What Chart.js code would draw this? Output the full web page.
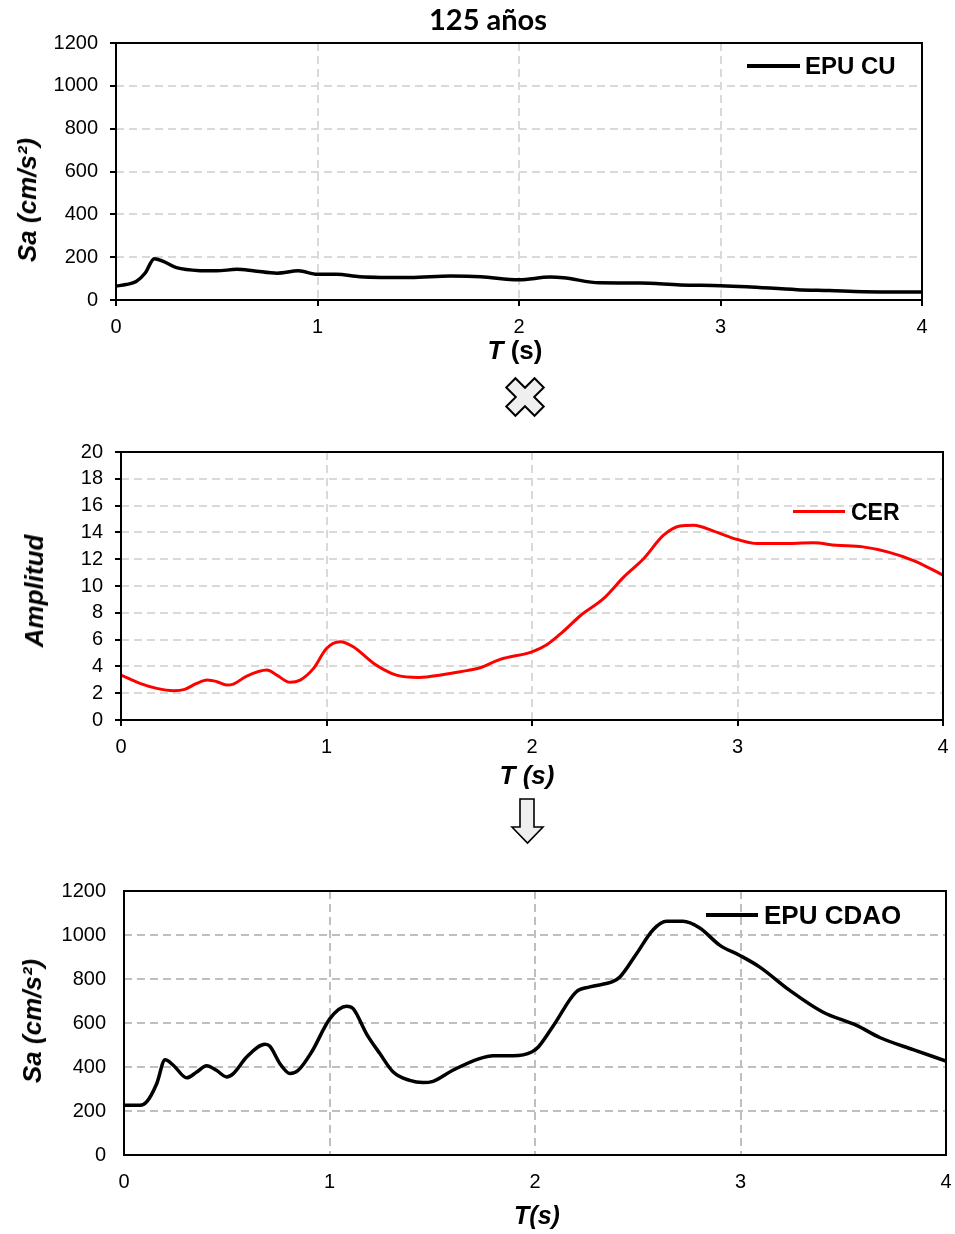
<!DOCTYPE html>
<html><head><meta charset="utf-8">
<script src="https://cdn.jsdelivr.net/npm/chart.js@4.4.0/dist/chart.umd.min.js"></script>
<style>
html,body{margin:0;padding:0;background:#fff;}
body{width:955px;height:1234px;position:relative;overflow:hidden;font-family:"Liberation Sans",Arial,sans-serif;}
canvas{position:absolute;left:0;z-index:1;}
.t{position:absolute;white-space:nowrap;font-weight:bold;color:#000;line-height:1;z-index:2;}
.rot{transform:translate(-50%,-50%) rotate(-90deg);font-style:italic;}
.ctr{transform:translate(-50%,-50%);}
.lt{position:absolute;white-space:nowrap;font-weight:bold;color:#000;line-height:1;transform:translateY(-50%);z-index:2;}
.ll{position:absolute;z-index:2;}
svg{position:absolute;z-index:2;}
</style>
</head><body>

<canvas id="c1" width="985" height="367" style="top:3px"></canvas>
<canvas id="c2" width="985" height="388" style="top:412px"></canvas>
<canvas id="c3" width="985" height="383" style="top:851px"></canvas>

<div class="t ctr" style="left:488px;top:18px;font-family:Lato,'Open Sans',sans-serif;font-size:29px;">125 años</div>

<!-- axis titles -->
<div class="t rot" style="left:27px;top:200px;font-size:26px;">Sa (cm/s²)</div>
<div class="t ctr" style="left:515px;top:350px;font-size:26px;"><i>T</i> (s)</div>

<div class="t rot" style="left:34px;top:591px;font-size:26px;">Amplitud</div>
<div class="t ctr" style="left:527px;top:775px;font-size:26px;font-style:italic;">T (s)</div>

<div class="t rot" style="left:32px;top:1021px;font-size:26px;">Sa (cm/s²)</div>
<div class="t ctr" style="left:537px;top:1215px;font-size:25px;font-style:italic;">T(s)</div>

<!-- legends -->
<div class="ll" style="left:747px;top:64px;width:53px;height:4px;background:#000;"></div>
<div class="lt" style="left:805px;top:66px;font-size:24px;">EPU CU</div>

<div class="ll" style="left:793px;top:510px;width:52px;height:3px;background:#ff0000;"></div>
<div class="lt" style="left:851px;top:512px;font-size:23px;">CER</div>

<div class="ll" style="left:706px;top:913px;width:52px;height:4px;background:#000;"></div>
<div class="lt" style="left:764px;top:915px;font-size:26px;">EPU CDAO</div>

<!-- cross icon -->
<svg style="left:503px;top:375px" width="44" height="44" viewBox="-22 -22 44 44">
  <polygon transform="rotate(45)" fill="#efefef" stroke="#000" stroke-width="2" stroke-linejoin="miter"
    points="-6.5,-20 6.5,-20 6.5,-6.5 20,-6.5 20,6.5 6.5,6.5 6.5,20 -6.5,20 -6.5,6.5 -20,6.5 -20,-6.5 -6.5,-6.5"/>
</svg>
<!-- arrow icon -->
<svg style="left:508px;top:796px" width="40" height="50" viewBox="0 0 40 50">
  <polygon fill="#efefef" stroke="#000" stroke-width="1.6"
    points="12,3 26,3 26,31 35,31 19.5,47 4,31 12,31"/>
</svg>

<script>
// ---- Data ----
const T_CU   = [0,0.05,0.10,0.145,0.19,0.235,0.30,0.42,0.50,0.60,0.68,0.80,0.905,1.0,1.095,1.21,1.46,1.66,1.81,2.0,2.155,2.22,2.40,2.60,2.80,3.0,3.13,3.38,3.54,3.71,4.0];
const SA_CU  = [65,72,86,126,193,180,151,137,136,143,137,125,136,120,120,109,105,112,109,94,107,104,80,79,70,67,62,48,44,39,37];

const T_CER  = [0,0.092,0.174,0.255,0.31,0.368,0.42,0.466,0.514,0.547,0.612,0.71,0.758,0.823,0.872,0.937,1.0,1.066,1.13,1.23,1.34,1.45,1.57,1.65,1.748,1.845,2.0,2.07,2.15,2.235,2.349,2.447,2.544,2.64,2.72,2.787,2.884,3.0,3.096,3.21,3.37,3.48,3.61,3.73,3.86,4.0];
const CER    = [3.35,2.73,2.36,2.19,2.29,2.73,2.98,2.86,2.61,2.68,3.28,3.73,3.35,2.81,2.98,3.85,5.34,5.84,5.47,4.22,3.35,3.18,3.40,3.60,3.90,4.52,5.09,5.59,6.58,7.78,9.07,10.68,12.05,13.79,14.48,14.53,14.09,13.47,13.17,13.17,13.22,13.04,12.92,12.55,11.88,10.81];

const T_CDAO = [0,0.078,0.11,0.159,0.2,0.24,0.305,0.354,0.402,0.45,0.5,0.532,0.597,0.686,0.71,0.759,0.808,0.848,0.913,1.002,1.083,1.115,1.18,1.245,1.31,1.39,1.455,1.504,1.6,1.73,1.797,1.894,1.984,2.016,2.09,2.2,2.267,2.38,2.413,2.494,2.575,2.64,2.72,2.80,2.90,2.997,3.094,3.24,3.40,3.565,3.68,3.84,4.0];
const SA_CDAO= [226,226,241,324,433,408,351,377,406,385,355,370,445,503,494,415,370,385,468,620,676,665,551,461,377,339,329,335,385,438,451,451,468,491,589,741,764,789,809,915,1024,1062,1062,1033,953,907,854,748,650,589,533,479,427];

const X_TICKS = [0,1,2,3,4];

// ---- Chart helper ----
const framePlugin = {
  id:'frame',
  afterDatasetsDraw(chart){
    const {ctx, chartArea:a} = chart;
    ctx.save(); ctx.strokeStyle='#000'; ctx.lineWidth=2;
    ctx.strokeRect(a.left, a.top, a.right-a.left, a.bottom-a.top);
    ctx.restore();
  }
};
function makeChart(id, o){
  const cv = document.getElementById(id);
  const H = cv.height, W = cv.width;
  const font = {family:'Liberation Sans', size:20};
  const grid = {color:o.grid, lineWidth:2, drawTicks:o.ticks, tickLength:6, tickColor:'#000', tickWidth:2, tickBorderDash:[]};
  return new Chart(cv, {
    type:'line',
    data:{datasets:[{data:o.xs.map((x,i)=>({x:x, y:o.ys[i]})), borderColor:o.color, borderWidth:o.lw,
      pointRadius:0, cubicInterpolationMode:'monotone', fill:false}]},
    options:{
      responsive:false, animation:false, events:[],
      layout:{padding:{left:0, right:W-o.area.right, top:o.area.top, bottom:0}},
      plugins:{legend:{display:false}, tooltip:{enabled:false}},
      scales:{
        x:{type:'linear', min:0, max:4,
          afterBuildTicks(s){ s.ticks = X_TICKS.map(v=>({value:v})); },
          afterFit(s){ s.height = H - o.area.bottom; },
          ticks:{color:'#000', font:font, padding:o.xPad, maxRotation:0, autoSkip:false, callback:v=>String(v)},
          grid:grid, border:{display:false, dash:[8,5]}},
        y:{min:0, max:o.yMax,
          afterFit(s){ s.width = o.area.left; },
          ticks:{stepSize:o.yStep, color:'#000', font:font, padding:o.yPad, autoSkip:false, callback:v=>String(v)},
          grid:grid, border:{display:false, dash:[8,5]}}
      }
    },
    plugins:[framePlugin]
  });
}

makeChart('c1', {xs:T_CU, ys:SA_CU, color:'#000', lw:3.5, yMax:1200, yStep:200, grid:'#d9d9d9', ticks:true,
  area:{left:116, right:922, top:40, bottom:297}, xPad:9, yPad:12});
makeChart('c2', {xs:T_CER, ys:CER, color:'#ff0000', lw:3, yMax:20, yStep:2, grid:'#d9d9d9', ticks:true,
  area:{left:121, right:943, top:40, bottom:308}, xPad:9, yPad:12});
makeChart('c3', {xs:T_CDAO, ys:SA_CDAO, color:'#000', lw:3.5, yMax:1200, yStep:200, grid:'#bfbfbf', ticks:false,
  area:{left:124, right:946, top:40, bottom:304}, xPad:15, yPad:18});
</script>
</body></html>
